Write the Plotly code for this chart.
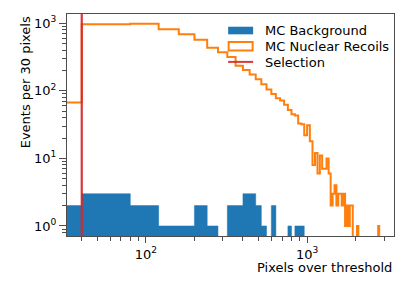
import numpy as np
import plotly.graph_objects as go

# ---------------- data ----------------
bin_width = 40  # histogram bin width (pixels over threshold)

# MC Nuclear Recoils counts per bin, bins start at 0, 40, 80, ...
nr_counts = [67, 970, 985, 815, 687, 572, 435, 372, 317, 236,
             203, 175, 149, 125, 105, 90, 78, 72, 62, 52,
             45, 43, 33, 32, 22, 31, 18, 8, 12, 6,
             11, 7, 7, 10, 6, 2, 3, 4, 2, 3,
             3, 2, 3, 1, 2, 1, 2, 2, 0, 0,
             0, 1, 0, 0, 0, 0, 0, 0, 0, 0,
             0, 0, 0, 0, 0, 0, 0, 0, 0, 1]

# MC Background counts per bin
bg_counts = [2, 3, 2, 1, 1, 2, 1, 0, 2, 2,
             3, 3, 2, 1, 0, 2, 0, 0, 0, 1,
             0, 1, 1, 1]

selection_cut = 40

series_names = ["MC Background", "MC Nuclear Recoils", "Selection"]
x_tick_vals = [100, 1000]
x_tick_text = ["10<sup>2</sup>", "10<sup>3</sup>"]
y_tick_vals = [1, 10, 100, 1000]
y_tick_text = ["10<sup>0</sup>", "10<sup>1</sup>", "10<sup>2</sup>", "10<sup>3</sup>"]
x_range = [32.4, 3460]
y_range = [0.71, 1373]

# ---------------- styling ----------------
BLUE = "#1f77b4"
ORANGE = "#ff7f0e"
RED = "rgba(214,39,40,0.92)"
AX = "#4d4d4d"
FONT = "DejaVu Sans"
FS = 13
FLOOR = 1e-3


def step_path(counts):
    edges = np.arange(len(counts) + 1) * bin_width
    edges = np.maximum(edges, 1.0)  # log axis cannot show 0
    xs = [edges[0]]
    ys = [FLOOR]
    for i, c in enumerate(counts):
        v = c if c > 0 else FLOOR
        xs += [edges[i], edges[i + 1]]
        ys += [v, v]
    xs.append(edges[-1])
    ys.append(FLOOR)
    return xs, ys


fig = go.Figure()

bx, by = step_path(bg_counts)
fig.add_trace(go.Scatter(x=bx, y=by, mode="lines", fill="toself",
                         fillcolor=BLUE, line=dict(color=BLUE, width=0.5),
                         name=series_names[0], showlegend=False))

ox, oy = step_path(nr_counts)
fig.add_trace(go.Scatter(x=ox, y=oy, mode="lines",
                         line=dict(color=ORANGE, width=2),
                         name=series_names[1], showlegend=False))

fig.add_trace(go.Scatter(x=[selection_cut, selection_cut],
                         y=[FLOOR, y_range[1] * 10], mode="lines",
                         line=dict(color=RED, width=2.2),
                         name=series_names[2], showlegend=False))


def minor_vals(lo, hi):
    vals = []
    for d in range(-2, 5):
        for m in range(2, 10):
            v = m * 10 ** d
            if lo <= v <= hi:
                vals.append(v)
    return vals


axis_common = dict(type="log", showgrid=False, zeroline=False, automargin=False,
                   showline=True, linecolor=AX, linewidth=1.2, mirror=True,
                   ticks="outside", tickwidth=1, tickcolor=AX,
                   tickfont=dict(family=FONT, size=FS, color="black"))

fig.update_xaxes(range=[np.log10(x_range[0]), np.log10(x_range[1])],
                 tickmode="array", tickvals=x_tick_vals, ticktext=x_tick_text,
                 ticklen=6,
                 minor=dict(tickmode="array", tickvals=minor_vals(*x_range),
                            ticks="outside", ticklen=4, tickcolor=AX, showgrid=False),
                 **axis_common)
fig.update_yaxes(range=[np.log10(y_range[0]), np.log10(y_range[1])],
                 tickmode="array", tickvals=y_tick_vals, ticktext=y_tick_text,
                 ticklen=7,
                 minor=dict(tickmode="array", tickvals=minor_vals(*y_range),
                            ticks="outside", ticklen=4, tickcolor=AX, showgrid=False),
                 **axis_common)

# page has an 8px body margin: figure is shrunk so the page fits the window
OFF = 8
FIG_W, FIG_H = 415 - 2 * OFF, 281 - 2 * OFF
# plot area in page pixels
L, R, T, B = 66.7, 394.0, 14.0, 235.6
W, H = R - L, B - T


def px(xp):
    return (xp - L) / W


def py(yp):
    return (B - yp) / H


# manual legend (matplotlib-like symbols)
shapes = [
    dict(type="rect", xref="paper", yref="paper", x0=px(228), x1=px(253),
         y0=py(34.3), y1=py(26.7), fillcolor=BLUE, line=dict(width=0)),
    dict(type="rect", xref="paper", yref="paper", x0=px(228.5), x1=px(252.5),
         y0=py(50.5), y1=py(42), fillcolor="rgba(0,0,0,0)",
         line=dict(color=ORANGE, width=2)),
    dict(type="line", xref="paper", yref="paper", x0=px(228), x1=px(253),
         y0=py(61.8), y1=py(61.8), line=dict(color=RED, width=2)),
]
annotations = []
for name, yc in zip(series_names, [30.7, 46.2, 62.0]):
    annotations.append(dict(text=name, xref="paper", yref="paper",
                            x=px(262.5), y=py(yc), xanchor="left", yanchor="middle",
                            showarrow=False,
                            font=dict(family=FONT, size=FS, color="black")))

annotations.append(dict(text="Pixels over threshold", xref="paper", yref="paper",
                        x=1, y=py(266.8), xanchor="right", yanchor="middle",
                        height=10, valign="middle",
                        showarrow=False,
                        font=dict(family=FONT, size=FS, color="black")))
annotations.append(dict(text="Events per 30 pixels", xref="paper", yref="paper",
                        x=px(25), y=1, xanchor="center", yanchor="top",
                        textangle=-90, showarrow=False,
                        font=dict(family=FONT, size=FS, color="black")))

fig.update_layout(width=FIG_W, height=FIG_H,
                  margin=dict(l=L - OFF, r=FIG_W - (R - OFF), t=T - OFF,
                              b=FIG_H - (B - OFF), pad=0),
                  paper_bgcolor="white", plot_bgcolor="white",
                  shapes=shapes, annotations=annotations, showlegend=False)

fig.write_html("out.html")
